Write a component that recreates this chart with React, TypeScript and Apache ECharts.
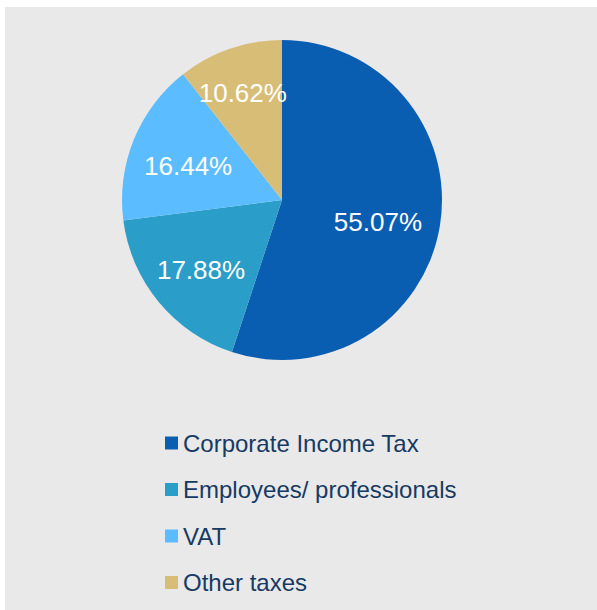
import React, { useEffect, useRef } from "react";
import * as echarts from "echarts";

const categories = ["Corporate Income Tax", "Employees/ professionals", "VAT", "Other taxes"];
const shares = [55.07, 17.88, 16.44, 10.62];
const colors = ["#0a5eb2", "#2a9ec9", "#5bbdff", "#d8bd77"];
const labelOffsets: [number, number][] = [[14, 9], [-17, 17], [-17, -3], [-12, -29]];

const FONT = "'Liberation Sans', Arial, sans-serif";

export default function App() {
  const ref = useRef<HTMLDivElement>(null);
  useEffect(() => {
    if (!ref.current) return;
    const chart = echarts.init(ref.current, null, { renderer: "svg" });
    chart.setOption({
      animation: false,
      backgroundColor: "#e9e9e9",
      legend: {
        orient: "vertical",
        left: 155,
        top: 419,
        icon: "rect",
        itemWidth: 13,
        itemHeight: 13,
        itemGap: 22.5,
        selectedMode: false,
        data: categories,
        textStyle: {
          fontFamily: FONT,
          fontSize: 24,
          lineHeight: 24,
          color: "#173a63",
        },
      },
      series: [
        {
          type: "pie",
          center: [277, 193],
          radius: [0, 160],
          startAngle: 90,
          clockwise: true,
          silent: true,
          label: {
            show: true,
            position: "inside",
            color: "#ffffff",
            fontFamily: FONT,
            fontSize: 26,
            formatter: (p: any) => p.value.toFixed(2) + "%",
          },
          labelLine: { show: false },
          itemStyle: { borderWidth: 0 },
          data: categories.map((name, i) => ({
            name,
            value: shares[i],
            itemStyle: { color: colors[i] },
            label: { offset: labelOffsets[i] },
          })),
        },
      ],
    });
    return () => chart.dispose();
  }, []);
  return (
    <div
      ref={ref}
      style={{ position: "fixed", left: 5, top: 7, width: 592, height: 603 }}
    />
  );
}
